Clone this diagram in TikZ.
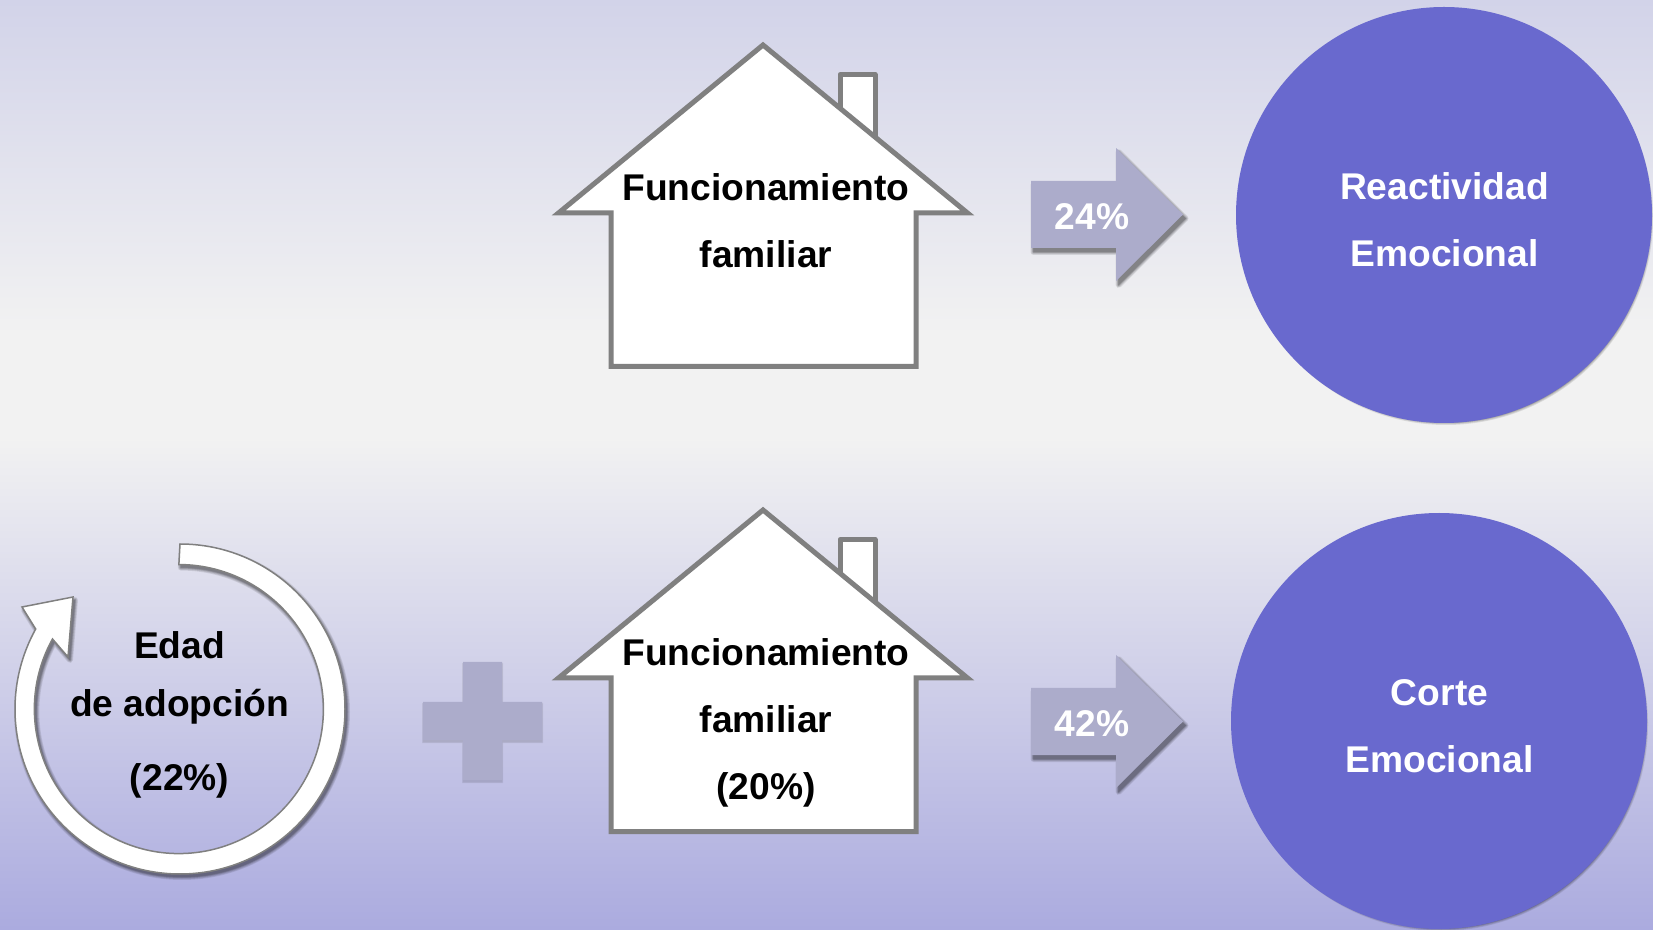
\documentclass[tikz,border=0pt]{standalone}
\usepackage{fontspec}
\setmainfont{Liberation Sans}
\definecolor{bgtop}{HTML}{D2D3E9}
\definecolor{bgmid}{HTML}{F2F2F2}
\definecolor{bgbot}{HTML}{ABABDF}
\definecolor{circ}{HTML}{6969CE}
\definecolor{arrowc}{HTML}{ACACCB}
\definecolor{lineg}{HTML}{808080}
\pgfdeclareverticalshading{pagebg}{100bp}{color(0bp)=(bgbot); color(25bp)=(bgbot); color(51.5bp)=(bgmid); color(57bp)=(bgmid); color(75bp)=(bgtop); color(100bp)=(bgtop)}
\newcommand{\softshadow}[3]{%
  \foreach \w in {6,4.5,3,2,1,0.2}{
    \begin{scope}[transparency group,opacity=.09]
    \path[shift={(#1,#2)},fill=black,draw=black,line width=\w pt,line join=round] #3;
    \end{scope}
  }}
\newcommand{\arrowshape}{(1031,181) -- (1116,181) -- (1116,148) -- (1183,214.5) -- (1116,281) -- (1116,248) -- (1031,248) -- cycle}
\newcommand{\houseshape}{(763,45) -- (967.5,213) -- (916,213) -- (916,366.5) -- (611,366.5) -- (611,213) -- (558.5,213) -- cycle}
\newcommand{\chimneyshape}{(840,120) -- (840,74.5) -- (875,74.5) -- (875,145)}
\newcommand{\ringshape}{(180,544) arc[start angle=-90,end angle=209,radius=165] -- (22,607) -- (73,597) -- (68,657) -- (52.5,639) arc[start angle=209,end angle=-90,radius=144.5] -- cycle}
\tikzset{
  lbl/.style={font=\bfseries\fontsize{37.2}{37.2}\selectfont,anchor=base,align=center,inner sep=0pt},
  darklbl/.style={lbl,text=black},
  whitelbl/.style={lbl,text=white},
  arrowfill/.style={fill=arrowc},
  housefill/.style={fill=white,draw=lineg,line width=5pt,line join=miter,miter limit=20},
  chimfill/.style={fill=white,draw=lineg,line width=5pt,line join=round}
}
\begin{document}
\begin{tikzpicture}[x=1pt,y=1pt]
\useasboundingbox (0,0) rectangle (1653,929);
\shade[shading=pagebg] (0,0) rectangle (1653,929);
\clip (0,0) rectangle (1653,929);
\begin{scope}[yscale=-1,yshift=-929pt]
% circles
\softshadow{2}{3}{(1444,215) circle[radius=204]}
\fill[circ] (1444,215) circle[radius=208];
\softshadow{2}{3}{(1439,721) circle[radius=204]}
\fill[circ] (1439,721) circle[radius=208];
\node[whitelbl] (r1) at (1444.5,200) {Reactividad};
\node[whitelbl] (r2) at (1444.5,267) {Emocional};
\node[whitelbl] (c1) at (1439.5,706) {Corte};
\node[whitelbl] (c2) at (1439.5,772) {Emocional};
% arrows
\softshadow{2.5}{4}{\arrowshape}
\fill[arrowfill] \arrowshape;
\node[whitelbl] (p1) at (1092,230) {24\%};
\begin{scope}[yshift=507pt]
\softshadow{2.5}{4}{\arrowshape}
\fill[arrowfill] \arrowshape;
\node[whitelbl] (p2) at (1092,229.5) {42\%};
\end{scope}
% houses
\draw[chimfill] \chimneyshape;
\draw[housefill] \houseshape;
\node[darklbl] (h1) at (766,201) {Funcionamiento};
\node[darklbl] (h2) at (766,267.5) {familiar};
\begin{scope}[yshift=465pt]
\draw[chimfill] \chimneyshape;
\draw[housefill] \houseshape;
\node[darklbl] (h3) at (766,201) {Funcionamiento};
\node[darklbl] (h4) at (766,267.5) {familiar};
\node[darklbl] (h5) at (766,334) {(20\%)};
\end{scope}
% plus
\newcommand{\plusshape}{(463,662) -- (502,662) -- (502,702) -- (542,702) -- (542,740) -- (502,740) -- (502,780) -- (463,780) -- (463,740) -- (423,740) -- (423,702) -- (463,702) -- cycle}
\foreach \w in {2,0.5}{\begin{scope}[transparency group,opacity=.07]\path[shift={(0,2)},fill=black,draw=black,line width=\w pt] \plusshape;\end{scope}}
\fill[arrowfill] \plusshape;
% ring arrow
\softshadow{2}{3}{\ringshape}
\draw[fill=white,draw=lineg,line width=1.5pt,line join=miter] \ringshape;
\node[darklbl] (e1) at (179.6,658.5) {Edad};
\node[darklbl] (e2) at (179.6,716.5) {de adopción};
\node[darklbl] (e3) at (179.6,790) {(22\%)};
\end{scope}
\end{tikzpicture}
\end{document}
